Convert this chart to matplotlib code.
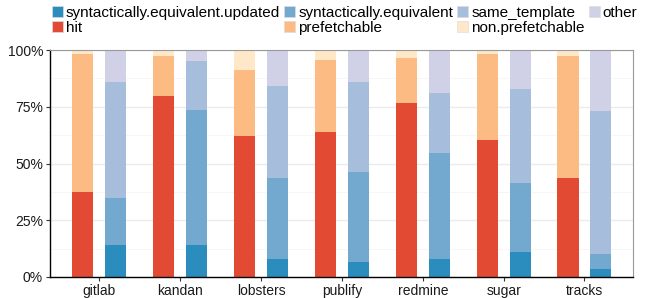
import matplotlib
matplotlib.use("Agg")
import matplotlib.pyplot as plt
import numpy as np
from matplotlib.patches import Patch

plt.rcParams['font.family'] = ['Liberation Sans', 'DejaVu Sans']

categories = ["gitlab", "kandan", "lobsters", "publify", "redmine", "sugar", "tracks"]

# left bar (cumulative tops, %)
hit = [37.6, 79.9, 62.3, 64.0, 76.8, 60.5, 43.8]
prefetchable_top = [98.4, 97.5, 91.3, 95.7, 96.6, 98.4, 97.5]
# right bar (cumulative tops, %)
syn_updated = [14.2, 14.2, 8.1, 6.8, 8.1, 11.2, 3.7]
syn_equiv_top = [34.9, 73.7, 43.8, 46.4, 54.8, 41.6, 10.3]
same_template_top = [86.0, 95.3, 84.3, 86.0, 81.2, 83.0, 73.3]

hit = np.array(hit)
prefetchable = np.array(prefetchable_top) - hit
non_prefetchable = 100 - np.array(prefetchable_top)
syn_updated = np.array(syn_updated)
syn_equiv = np.array(syn_equiv_top) - syn_updated
same_template = np.array(same_template_top) - np.array(syn_equiv_top)
other = 100 - np.array(same_template_top)

colors = {
    "syntactically.equivalent.updated": "#2b8cbe",
    "syntactically.equivalent": "#74a9cf",
    "same_template": "#a6bddb",
    "other": "#d0d1e6",
    "hit": "#e34a33",
    "prefetchable": "#fdbb84",
    "non.prefetchable": "#fee8c8",
}

fig = plt.figure(figsize=(6.48, 2.98), dpi=100)
ax = fig.add_axes([50/648, 1 - 277/298, 583/648, 227/298])

x = np.arange(len(categories))
w = 0.26
off = 0.204
xl = x - off
xr = x + off

ax.bar(xl, hit, w, color=colors["hit"], zorder=2)
ax.bar(xl, prefetchable, w, bottom=hit, color=colors["prefetchable"], zorder=2)
ax.bar(xl, non_prefetchable, w, bottom=hit + prefetchable, color=colors["non.prefetchable"], zorder=2)

b = np.zeros(len(categories))
for vals, key in [(syn_updated, "syntactically.equivalent.updated"),
                  (syn_equiv, "syntactically.equivalent"),
                  (same_template, "same_template"),
                  (other, "other")]:
    ax.bar(xr, vals, w, bottom=b, color=colors[key], zorder=2)
    b = b + vals

ax.set_xlim(-0.61, 6.6)
ax.set_ylim(0, 100)
ax.set_yticks([0, 25, 50, 75, 100])
ax.set_yticklabels(["0%", "25%", "50%", "75%", "100%"])
ax.set_yticks([12.5, 37.5, 62.5, 87.5], minor=True)
ax.set_xticks(x)
ax.set_xticklabels(categories)
ax.grid(axis='y', which='major', color='#ebebeb', linewidth=1.0, zorder=0)
ax.grid(axis='y', which='minor', color='#f5f5f5', linewidth=0.6, zorder=0)
ax.tick_params(axis='y', which='minor', length=0)
ax.tick_params(axis='both', which='major', length=3, width=0.8, colors='#333333',
               labelsize=10, labelcolor='#1a1a1a', pad=2)
for s in ['left', 'bottom']:
    ax.spines[s].set_color('black')
    ax.spines[s].set_linewidth(1.0)
for s in ['top', 'right']:
    ax.spines[s].set_color('#999999')
    ax.spines[s].set_linewidth(0.8)

order = ["syntactically.equivalent.updated", "hit", "syntactically.equivalent",
         "prefetchable", "same_template", "non.prefetchable", "other"]
handles = [Patch(facecolor=colors[k], edgecolor='#dddddd', linewidth=0.5, label=k) for k in order]
fig.legend(handles=handles, loc='upper left', bbox_to_anchor=(52/648, 1 - 6/298), ncol=4,
           frameon=False, fontsize=11, handlelength=0.72, handleheight=0.72,
           handletextpad=0.2, columnspacing=0.26, labelspacing=0.05, borderpad=0,
           borderaxespad=0)

fig.savefig("out.png", dpi=100)
